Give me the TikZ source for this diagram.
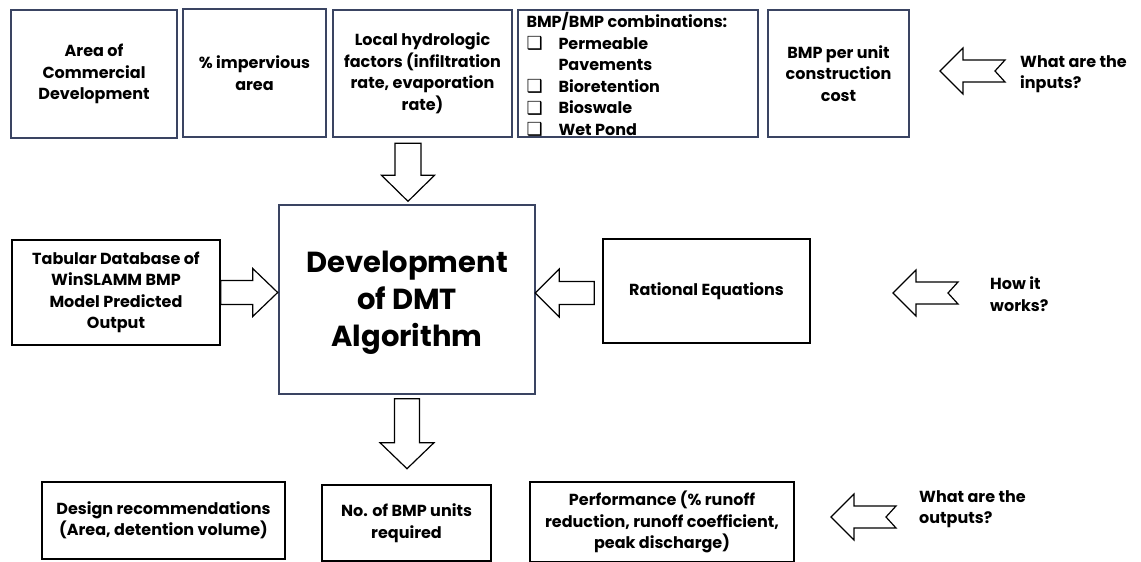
\documentclass[tikz,border=0pt]{standalone}
\usepackage{fontspec}
\setmainfont{Poppins}
\newfontfamily\symfont{DejaVu Sans}
\usetikzlibrary{calc}
\definecolor{navy}{RGB}{58,68,98}
\newcommand\cbx{\raisebox{-0.5pt}{\symfont\fontsize{18}{18}\selectfont ❑}}
\newcommand\notcharrow[1]{\draw[barrow] (#1) -- ++(23,-23) -- ++(0,12) -- ++(42,0) -- ++(-10,11) -- ++(10,11) -- ++(-42,0) -- ++(0,12) -- cycle;}
\begin{document}
\begin{tikzpicture}[x=1pt,y=-1pt,
  txt/.style={font=\bfseries\fontsize{16}{21.5}\selectfont},
  box/.style={txt, draw=navy, line width=1.4pt, inner sep=0pt, align=center},
  bbox/.style={box, draw=black},
  barrow/.style={draw=black, fill=white, line width=1.2pt, line join=miter},
  lbl/.style={txt, align=left, anchor=west, inner sep=0pt}]
\useasboundingbox (0,0) rectangle (1141,562);
\fill[white] (0,0) rectangle (1141,562);

% top row
\node[box, minimum width=166pt, minimum height=128pt] (b1) at (94,74) {Area of\\Commercial\\Development};
\node[box, minimum width=143pt, minimum height=128pt] (b2) at (254.5,73) {\% impervious\\area};
\node[box, minimum width=179pt, minimum height=127pt] (b3) at (422.5,73.5) {Local hydrologic\\factors (infiltration\\rate, evaporation\\rate)};
\node[box, minimum width=240pt, minimum height=127pt] (b4) at (638,73.5) {};
\node[txt, anchor=north west, align=left, inner sep=0pt] (b4t) at ($(b4.north west)+(9,3)$)
  {BMP/BMP combinations:\\
   \makebox[32pt][l]{\cbx}Permeable\\
   \hspace*{32pt}Pavements\\
   \makebox[32pt][l]{\cbx}Bioretention\\
   \makebox[32pt][l]{\cbx}Bioswale\\
   \makebox[32pt][l]{\cbx}Wet Pond};
\node[box, minimum width=141pt, minimum height=127pt] (b5) at (838.5,73.5) {BMP per unit\\construction\\cost};
\coordinate (n1) at (940,71);
\notcharrow{n1}
\node[lbl] (q1) at (1020,74) {What are the\\inputs?};

% middle row
\node[box, minimum width=256pt, minimum height=189pt] (c) at (407,299.5) {};
\node[align=center, inner sep=0pt, font=\bfseries\fontsize{29}{37}\selectfont] (ct) at (407,303) {Development\\of DMT\\Algorithm};
\node[bbox, minimum width=208pt, minimum height=105pt] (tab) at (116,292.5) {Tabular Database of\\WinSLAMM BMP\\Model Predicted\\Output};
\node[bbox, minimum width=207pt, minimum height=104pt] (rat) at (706.5,291) {Rational Equations};
\coordinate (n2) at (893,293);
\notcharrow{n2}
\node[lbl] (q2) at (990,294) {How it\\works?};

% bottom row
\node[bbox, minimum width=243pt, minimum height=77pt] (d1) at (163.5,520.5) {Design recommendations\\(Area, detention volume)};
\node[bbox, minimum width=169pt, minimum height=76pt] (d2) at (406.5,523) {No. of BMP units\\required};
\node[bbox, minimum width=264pt, minimum height=80pt] (d3) at (662,522) {Performance (\% runoff\\reduction, runoff coefficient,\\peak discharge)};
\coordinate (n3) at (831,517);
\notcharrow{n3}
\node[lbl] (q3) at (919,509) {What are the\\outputs?};

% block arrows
\coordinate (t1) at ($(c.north)+(1,-3)$);
\draw[barrow] (t1) -- ++(-26.5,-26) -- ++(13.5,0) -- ++(0,-32) -- ++(26,0) -- ++(0,32) -- ++(13.5,0) -- cycle;
\coordinate (t2) at ($(c.south)+(0,74)$);
\draw[barrow] (t2) -- ++(-27,-26) -- ++(14.5,0) -- ++(0,-44) -- ++(25,0) -- ++(0,44) -- ++(14.5,0) -- cycle;
\coordinate (t3) at ($(tab.east)+(57,0)$);
\draw[barrow] (t3) -- ++(-25,-24) -- ++(0,12) -- ++(-32,0) -- ++(0,24) -- ++(32,0) -- ++(0,12) -- cycle;
\coordinate (t4) at ($(rat.west)+(-67,2)$);
\draw[barrow] (t4) -- ++(24,-24) -- ++(0,12.5) -- ++(35,0) -- ++(0,23) -- ++(-35,0) -- ++(0,12.5) -- cycle;
\end{tikzpicture}
\end{document}
